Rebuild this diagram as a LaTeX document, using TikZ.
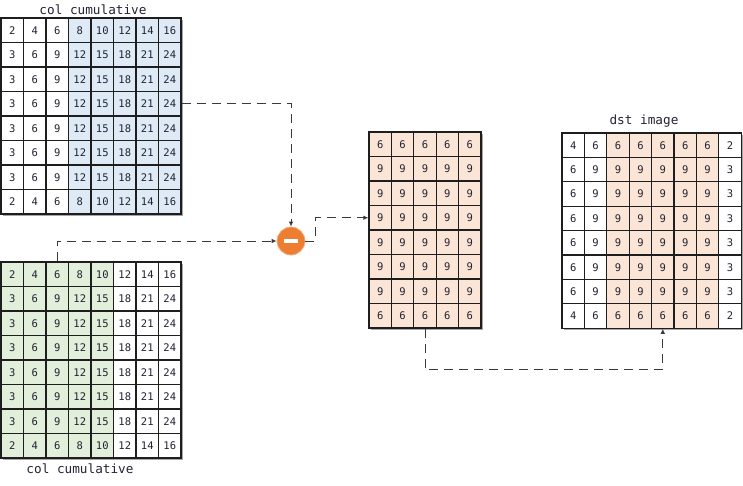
\documentclass[tikz,border=0pt]{standalone}
\usepackage{fontspec}
\setmonofont{DejaVu Sans Mono}
\usetikzlibrary{arrows.meta,calc}
\definecolor{cblue}{HTML}{DEEAF6}
\definecolor{cgreen}{HTML}{E2EFDA}
\definecolor{cpeach}{HTML}{FBE5D6}
\definecolor{corange}{HTML}{ED7D31}
\definecolor{gridc}{HTML}{1E1E1E}
\definecolor{txtc}{HTML}{222233}
\definecolor{linec}{HTML}{3A3A3A}
\begin{document}
\begin{tikzpicture}[x=1pt,y=-1pt,
  cell/.style={draw=gridc, line width=1.1pt, minimum width=22.5pt, minimum height=24.5pt,
    inner sep=0pt, font=\ttfamily\fontsize{10.5}{11}\selectfont, text=txtc},
  dcell/.style={cell, minimum width=22.4pt, minimum height=24.4pt},
  lbl/.style={font=\ttfamily\fontsize{12.7}{14}\selectfont, text=txtc, inner sep=0pt},
  shadowbox/.style={fill=black!35},
  conn/.style={draw=linec, line width=0.9pt, dash pattern=on 9pt off 6pt,
    -{Latex[length=5pt,width=4.5pt]}}]
\useasboundingbox (0,0) rectangle (743,485);

% shadows
\fill[shadowbox] (2.5,19.5) rectangle (182.5,215.5);
\fill[shadowbox] (2.5,263.5) rectangle (182.5,459.5);
\fill[shadowbox] (370.5,133.5) rectangle (482.5,329.5);
\fill[shadowbox] (563.5,134.5) rectangle (742.5,329.5);

% top grid
\foreach [count=\r] \row in {{2,4,6,8,10,12,14,16},{3,6,9,12,15,18,21,24},{3,6,9,12,15,18,21,24},{3,6,9,12,15,18,21,24},{3,6,9,12,15,18,21,24},{3,6,9,12,15,18,21,24},{3,6,9,12,15,18,21,24},{2,4,6,8,10,12,14,16}} {
  \foreach [count=\c] \v in \row {
    \ifnum\c>3 \def\fc{cblue}\else\def\fc{white}\fi
    \node[cell, fill=\fc] (t-\r-\c) at ({1+(\c-0.5)*22.5},{18+(\r-0.5)*24.5}) {\v};
  }
}
% bottom grid
\foreach [count=\r] \row in {{2,4,6,8,10,12,14,16},{3,6,9,12,15,18,21,24},{3,6,9,12,15,18,21,24},{3,6,9,12,15,18,21,24},{3,6,9,12,15,18,21,24},{3,6,9,12,15,18,21,24},{3,6,9,12,15,18,21,24},{2,4,6,8,10,12,14,16}} {
  \foreach [count=\c] \v in \row {
    \ifnum\c<6 \def\fc{cgreen}\else\def\fc{white}\fi
    \node[cell, fill=\fc] (b-\r-\c) at ({1+(\c-0.5)*22.5},{262+(\r-0.5)*24.5}) {\v};
  }
}
% middle grid
\foreach [count=\r] \row in {{6,6,6,6,6},{9,9,9,9,9},{9,9,9,9,9},{9,9,9,9,9},{9,9,9,9,9},{9,9,9,9,9},{9,9,9,9,9},{6,6,6,6,6}} {
  \foreach [count=\c] \v in \row {
    \node[cell, minimum width=22.4pt, fill=cpeach] (m-\r-\c) at ({369+(\c-0.5)*22.4},{132+(\r-0.5)*24.5}) {\v};
  }
}
% dst grid
\foreach [count=\r] \row in {{4,6,6,6,6,6,6,2},{6,9,9,9,9,9,9,3},{6,9,9,9,9,9,9,3},{6,9,9,9,9,9,9,3},{6,9,9,9,9,9,9,3},{6,9,9,9,9,9,9,3},{6,9,9,9,9,9,9,3},{4,6,6,6,6,6,6,2}} {
  \foreach [count=\c] \v in \row {
    \ifnum\c>2 \ifnum\c<8 \def\fc{cpeach}\else\def\fc{white}\fi \else\def\fc{white}\fi
    \node[dcell, fill=\fc] (d-\r-\c) at ({562+(\c-0.5)*22.4},{133+(\r-0.5)*24.4}) {\v};
  }
}

% labels
\node[lbl] (lt) at (93,10) {col cumulative};
\node[lbl] (lb) at (80,469) {col cumulative};
\node[lbl] (ld) at (644,121) {dst image};

% minus operator
\node[circle, fill=corange, draw=corange!60, line width=0.8pt, minimum size=28pt, inner sep=0pt] (minus) at (291,241) {};
\fill[white] ($(minus.center)+(-7,-2)$) rectangle ($(minus.center)+(7,2)$);

% connectors
\draw[conn] (t-4-8.east) -| (minus.north);
\draw[conn] (b-1-3.north) |- (minus.west);
\draw[conn] (minus.east) -- ++(10,0) |- (m-4-1.west);
\draw[conn] (m-8-3.south) -- ++(0,41) -| (d-8-5.south);
\end{tikzpicture}
\end{document}
